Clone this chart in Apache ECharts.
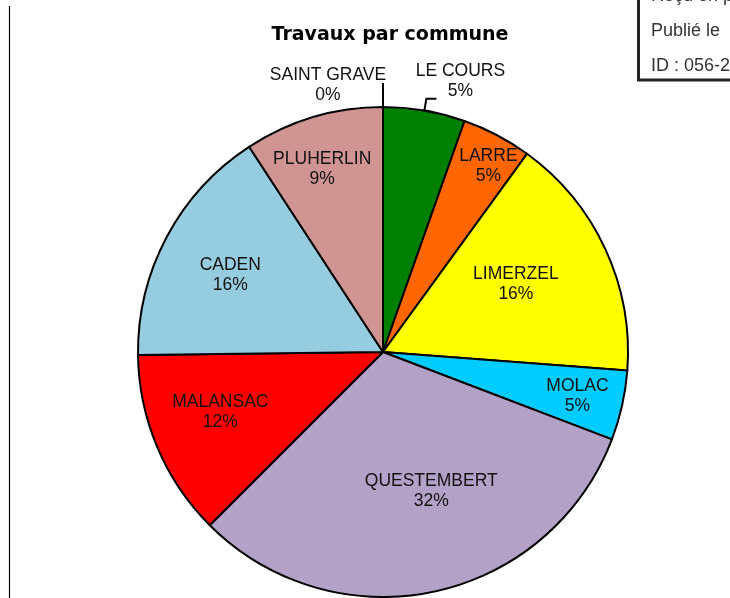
<!DOCTYPE html>
<html>
<head>
<meta charset="utf-8">
<script src="https://cdn.jsdelivr.net/npm/echarts@6/dist/echarts.min.js"></script>
<style>
html,body{margin:0;padding:0;background:#fff;}
#chart{width:730px;height:598px;}
</style>
</head>
<body>
<div id="chart"></div>
<script>
// ---- data ----
const communes = ['LE COURS', 'LARRE', 'LIMERZEL', 'MOLAC', 'QUESTEMBERT', 'MALANSAC', 'CADEN', 'PLUHERLIN', 'SAINT GRAVE'];
const parts = [5.4, 4.6, 16.2, 4.6, 31.7, 12.3, 16.0, 9.2, 0];
const stampLines = ['Reçu en p', 'Publié le', 'ID : 056-2'];
const titleText = 'Travaux par commune';

// ---- styles ----
const colors = ['#008000', '#FF6600', '#FFFF00', '#00CCFF', '#B3A1C8', '#FF0000', '#96CCDF', '#D09493', '#D09493'];
const outsideLine = {
  'LE COURS': { length: 12, length2: 10 },
  'SAINT GRAVE': { length: 24, length2: 0 }
};
const labelNudge = {
  'LE COURS': [-51, -18],
  'LARRE': [47, -75],
  'LIMERZEL': [19, -15],
  'MOLAC': [72, 17],
  'QUESTEMBERT': [22, 16],
  'MALANSAC': [-47, 11],
  'CADEN': [-42, -18],
  'PLUHERLIN': [-25, -63],
  'SAINT GRAVE': [20, 2]
};

const chart = echarts.init(document.getElementById('chart'), null, { renderer: 'canvas' });

const seriesData = communes.map((name, i) => {
  const item = { name: name, value: parts[i], itemStyle: { color: colors[i] } };
  const ol = outsideLine[name];
  if (ol) {
    item.label = { position: 'outside' };
    item.labelLine = { show: true, length: ol.length, length2: ol.length2, lineStyle: { color: '#000', width: 2 } };
  }
  return item;
});

const option = {
  backgroundColor: '#ffffff',
  animation: false,
  title: {
    text: titleText,
    left: 385,
    top: 21,
    textAlign: 'center',
    textStyle: { fontFamily: 'DejaVu Sans', fontWeight: 'bold', fontSize: 19, color: '#000' }
  },
  graphic: [
    { type: 'line', shape: { x1: 9.5, y1: 6, x2: 9.5, y2: 598 }, style: { stroke: '#000', lineWidth: 1.2 } },
    { type: 'rect', shape: { x: 638.5, y: -4, width: 100, height: 84 }, style: { fill: '#fff', stroke: '#222', lineWidth: 3 } },
    { type: 'text', x: 651, y: -4, style: { text: stampLines[0], font: '18px "Liberation Sans"', fill: '#333', textVerticalAlign: 'middle' } },
    { type: 'text', x: 651, y: 31, style: { text: stampLines[1], font: '18px "Liberation Sans"', fill: '#333', textVerticalAlign: 'middle' } },
    { type: 'text', x: 651, y: 66, style: { text: stampLines[2], font: '18px "Liberation Sans"', fill: '#333', textVerticalAlign: 'middle' } }
  ],
  series: [{
    type: 'pie',
    center: [383, 352],
    radius: 245,
    startAngle: 90,
    clockwise: true,
    avoidLabelOverlap: false,
    minShowLabelAngle: 0,
    itemStyle: { borderColor: '#000', borderWidth: 2 },
    label: {
      show: true,
      position: 'inside',
      formatter: p => '{t|' + p.name + '}\n{t|' + Math.round(p.percent) + '%}',
      rich: {
        t: { fontFamily: 'Liberation Sans', fontSize: 17.5, lineHeight: 20, color: '#111', width: 140, align: 'center' }
      }
    },
    labelLayout: function (params) {
      const n = labelNudge[communes[params.dataIndex]] || [0, 0];
      return { dx: n[0], dy: n[1] };
    },
    emphasis: { disabled: true },
    data: seriesData
  }]
};
chart.setOption(option);
</script>
</body>
</html>
